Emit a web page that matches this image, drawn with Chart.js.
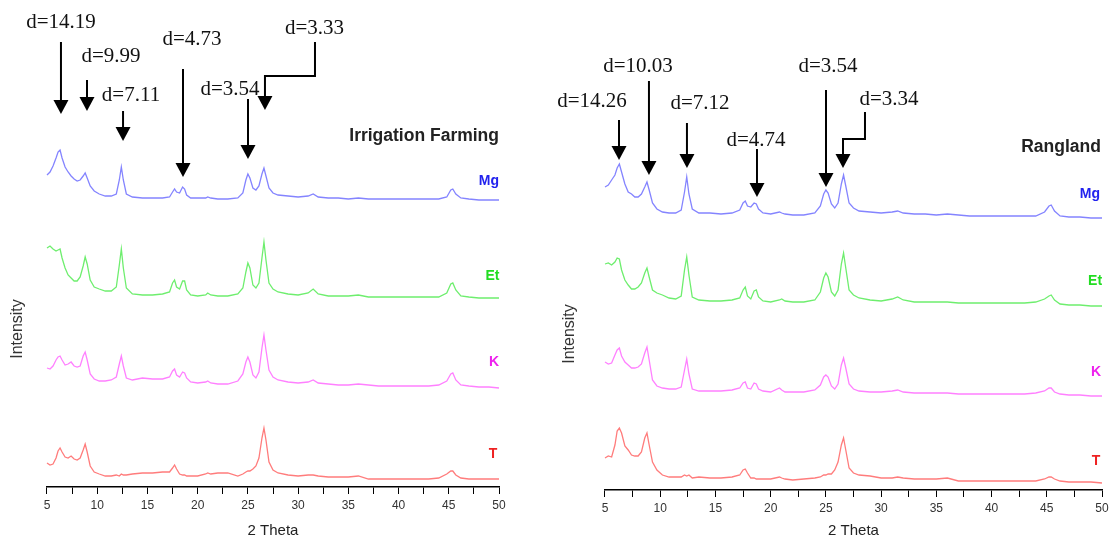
<!DOCTYPE html>
<html><head><meta charset="utf-8">
<script src="https://cdn.jsdelivr.net/npm/chart.js@4.4.1/dist/chart.umd.min.js"></script>
<style>
html,body{margin:0;padding:0;background:#fff;}
#wrap{position:relative;width:1115px;height:540px;overflow:hidden;background:#fff;}
.panel{position:absolute;top:0;height:540px;}
#p1{left:0;width:550px;} #p2{left:555px;width:560px;}
</style></head><body>
<div id="wrap"><div class="panel" id="p1"><canvas id="c1"></canvas></div><div class="panel" id="p2"><canvas id="c2"></canvas></div></div>
<script>
// ---- data (2 Theta grid, stacked intensities in a.u.) ----
const twoTheta = [5.0,5.3,5.6,5.9,6.1,6.3,6.5,6.8,7.1,7.4,7.7,8.0,8.3,8.6,8.8,9.0,9.3,9.7,10.2,10.8,11.4,11.9,12.2,12.4,12.6,12.9,13.5,14.5,15.5,16.5,17.2,17.5,17.7,17.9,18.2,18.5,18.7,18.9,19.3,20.0,20.8,21.0,21.3,22.0,23.0,24.0,24.5,24.8,25.0,25.2,25.5,25.8,26.1,26.4,26.6,26.8,27.1,27.5,28.0,29.0,30.0,31.0,31.5,32.0,33.0,34.0,35.0,36.0,37.0,38.0,39.0,40.0,41.0,42.0,43.0,44.0,44.8,45.2,45.4,45.7,46.2,47.0,48.0,49.0,50.0];
const tickLabels = [5,10,15,20,25,30,35,40,45,50];
const seriesNames = ['Mg','Et','K','T'];

const irrigMg = [312,315,321,329,335,337,329,320,315,311,308,306,307,311,314,309,301,296,293,291,291,293,307,320,307,293,290,289,289,289,290,295,298,295,294,300,298,292,289,289,289,290,289,288,288,289,294,307,313,309,299,297,301,313,319,311,299,294,292,291,290,291,293,290,289,289,288,289,288,288,288,288,288,288,288,288,290,297,298,293,289,288,287,287,287];
const irrigEt = [239,241,238,236,237,238,229,219,212,209,206,206,210,221,230,223,207,200,198,196,196,200,222,238,219,199,193,192,192,193,195,204,207,200,198,206,206,197,192,191,192,194,192,191,191,193,199,215,224,219,202,199,204,229,245,227,204,198,195,193,192,194,198,193,191,191,191,192,190,190,190,190,190,190,190,190,194,203,204,197,191,190,189,189,189];
const irrigK = [119,118,121,127,130,131,127,122,123,125,121,120,121,131,135,127,113,108,106,106,107,110,123,131,121,109,107,109,108,108,110,116,118,112,110,115,114,109,105,104,105,106,104,103,103,106,113,125,130,125,112,109,115,139,152,137,117,110,107,105,104,105,107,104,103,102,102,103,102,101,101,101,101,101,101,102,106,113,114,107,102,101,100,100,99];
const irrigT = [24,22,23,29,36,39,35,30,29,31,28,27,29,37,43,35,21,15,13,11,11,12,11,13,12,12,13,14,14,15,15,19,22,18,13,12,12,11,11,11,13,14,13,14,14,11,13,15,16,16,18,21,29,49,59,47,25,17,14,12,11,12,12,11,10,10,10,11,8,8,8,8,8,8,8,9,13,16,16,12,9,8,8,8,8];

const rangMg = [303,305,310,315,322,326,318,306,298,296,293,293,296,303,308,300,287,281,278,277,277,280,298,313,296,281,277,277,276,277,280,287,289,284,283,287,286,281,277,276,278,277,276,275,275,277,284,296,300,297,286,282,287,306,315,304,287,282,279,278,277,278,279,277,276,276,275,276,275,274,274,274,274,274,274,274,278,284,285,279,274,273,273,272,272];
const rangEt = [226,227,225,228,232,231,220,210,205,201,201,203,207,217,222,213,200,197,195,192,191,194,220,233,215,193,190,189,189,190,192,200,203,194,191,199,200,193,189,188,190,191,189,188,188,190,198,212,217,213,198,194,200,226,237,222,200,195,192,190,189,191,193,190,188,188,188,188,187,187,187,187,187,187,187,188,191,194,195,190,186,185,185,184,184];
const rangK = [128,126,127,135,140,142,134,128,125,122,122,123,126,137,143,130,110,104,102,101,101,103,120,131,116,101,99,99,99,100,102,107,108,102,101,107,106,101,99,98,102,100,98,98,98,100,105,113,115,113,104,101,106,125,132,122,106,101,99,98,98,99,100,98,97,97,97,97,96,96,96,96,96,96,96,97,99,102,102,98,96,95,95,94,94];
const rangT = [32,34,33,45,59,62,57,44,40,35,34,34,38,52,57,45,28,20,15,13,13,13,15,14,15,12,13,12,12,13,15,20,21,17,12,12,11,11,11,11,13,12,11,10,11,12,13,15,15,16,16,20,28,45,52,40,22,17,15,14,12,12,13,12,11,11,11,12,9,9,9,9,9,9,9,9,11,13,13,11,9,8,8,8,7];

const irrigDNotes = ['d=14.19','d=9.99','d=7.11','d=4.73','d=3.54','d=3.33'];
const rangDNotes  = ['d=14.26','d=10.03','d=7.12','d=4.74','d=3.54','d=3.34'];
const panelTitles = ['Irrigation Farming','Rangland'];

// ---- styles ----
const FAMILY = '"Liberation Sans", Arial, sans-serif';
Chart.defaults.font.family = FAMILY;
const lineColors  = {Mg:'#8484ff', Et:'#6eee6e', K:'#ff80ff', T:'#ff7c7c'};
const labelColors = {Mg:'#2222ee', Et:'#22dd22', K:'#ee22ee', T:'#ee2222'};

const notesPlugin = {
  id: 'xrdNotes',
  afterDatasetsDraw(chart, args, o) {
    const ctx = chart.ctx, xs = chart.scales.x, ys = chart.scales.y;
    const X = v => xs.getPixelForValue(v), Y = v => ys.getPixelForValue(v);
    ctx.save();
    // series labels
    ctx.font = 'bold 14px ' + FAMILY;
    ctx.textAlign = 'center'; ctx.textBaseline = 'middle';
    o.seriesLabels.forEach(l => { ctx.fillStyle = labelColors[l.name]; ctx.fillText(l.name, X(l.at[0]), Y(l.at[1])); });
    // panel title
    ctx.font = 'bold 17.5px ' + FAMILY; ctx.fillStyle = '#222'; ctx.textAlign = 'right';
    ctx.fillText(o.title.text, X(o.title.at[0]), Y(o.title.at[1]));
    // arrows + d-spacing labels
    ctx.strokeStyle = '#000'; ctx.fillStyle = '#000'; ctx.lineWidth = 2;
    const headH = 14, headW = 15;
    o.arrows.forEach(a => {
      const pts = a.path.map(p => [X(p[0]), Y(p[1])]);
      const tip = pts[pts.length - 1];
      ctx.beginPath();
      ctx.moveTo(pts[0][0], pts[0][1]);
      for (let i = 1; i < pts.length - 1; i++) ctx.lineTo(pts[i][0], pts[i][1]);
      ctx.lineTo(tip[0], tip[1] - headH + 1);
      ctx.stroke();
      ctx.beginPath();
      ctx.moveTo(tip[0] - headW / 2, tip[1] - headH);
      ctx.lineTo(tip[0] + headW / 2, tip[1] - headH);
      ctx.lineTo(tip[0], tip[1]);
      ctx.closePath(); ctx.fill();
      ctx.font = '21px "Liberation Serif", "Times New Roman", serif';
      ctx.textAlign = 'center'; ctx.fillStyle = '#111';
      ctx.fillText(a.text, X(a.at[0]), Y(a.at[1]));
      ctx.fillStyle = '#000';
    });
    ctx.restore();
  }
};

function makeDatasets(arrs) {
  return arrs.map((arr, k) => ({
    label: seriesNames[k],
    data: twoTheta.map((t, i) => ({x: t, y: arr[i]})),
    borderColor: lineColors[seriesNames[k]],
    borderWidth: 1.3, pointRadius: 0, tension: 0, fill: false, clip: false
  }));
}

function makeChart(id, arrs, cfg) {
  return new Chart(document.getElementById(id), {
    type: 'line',
    data: { datasets: makeDatasets(arrs) },
    options: {
      responsive: true, maintainAspectRatio: false, animation: false, devicePixelRatio: 1,
      layout: { padding: cfg.padding },
      plugins: { legend: {display: false}, tooltip: {enabled: false}, xrdNotes: cfg.notes },
      scales: {
        x: {
          type: 'linear', min: 5, max: 50,
          ticks: { stepSize: 2.5, autoSkip: false, maxRotation: 0, minRotation: 0, padding: 4, color: '#333',
                   font: {size: 12}, callback: v => tickLabels.includes(v) ? String(v) : '' },
          grid: { display: true, drawOnChartArea: false, drawTicks: true, tickLength: 7, color: '#000', tickColor: '#000', lineWidth: 1 },
          border: { display: true, color: '#000', width: 1.5 },
          title: { display: true, text: '2 Theta', color: '#222', font: {size: 15}, padding: {top: cfg.xTitleTop, bottom: 0} }
        },
        y: {
          min: 0, max: cfg.yMax,
          ticks: { display: false },
          grid: { display: false, drawTicks: false },
          border: { display: false },
          title: { display: true, text: 'Intensity', color: '#333', font: {size: 16}, padding: {top: 4, bottom: cfg.yTitleBottom} }
        }
      }
    },
    plugins: [notesPlugin]
  });
}

makeChart('c1', [irrigMg, irrigEt, irrigK, irrigT], {
  padding: {left: 4.4, right: 51, top: 171, bottom: 0}, yMax: 316, xTitleTop: 5.6, yTitleBottom: 19.4,
  notes: {
    title: {text: panelTitles[0], at: [50, 351]},
    seriesLabels: [{name:'Mg', at:[49.0,306]}, {name:'Et', at:[49.35,211]}, {name:'K', at:[49.5,125]}, {name:'T', at:[49.4,33]}],
    arrows: [
      {text: irrigDNotes[0], at:[6.39,465],  path:[[6.39,445],[6.39,373]]},
      {text: irrigDNotes[1], at:[11.37,431], path:[[8.98,407],[8.98,376]]},
      {text: irrigDNotes[2], at:[13.36,392], path:[[12.57,376],[12.57,346]]},
      {text: irrigDNotes[3], at:[19.44,448], path:[[18.54,418],[18.54,310]]},
      {text: irrigDNotes[4], at:[23.22,398], path:[[25.01,388],[25.01,328]]},
      {text: irrigDNotes[5], at:[31.63,459], path:[[31.68,445],[31.68,411],[26.70,411],[26.70,377]]}
    ]
  }
});

makeChart('c2', [rangMg, rangEt, rangK, rangT], {
  padding: {left: 1.4, right: 13, top: 178, bottom: 0}, yMax: 312, xTitleTop: 2.6, yTitleBottom: 25.4,
  notes: {
    title: {text: panelTitles[1], at: [49.9, 343]},
    seriesLabels: [{name:'Mg', at:[48.9,296]}, {name:'Et', at:[49.37,209]}, {name:'K', at:[49.46,118]}, {name:'T', at:[49.46,29]}],
    arrows: [
      {text: rangDNotes[0], at:[3.82,389],  path:[[6.27,370],[6.27,330]]},
      {text: rangDNotes[1], at:[7.99,424],  path:[[8.98,409],[8.98,315]]},
      {text: rangDNotes[2], at:[13.60,387], path:[[12.42,367],[12.42,322]]},
      {text: rangDNotes[3], at:[18.67,350], path:[[18.76,341],[18.76,293]]},
      {text: rangDNotes[4], at:[25.19,424], path:[[25.01,400],[25.01,303]]},
      {text: rangDNotes[5], at:[30.72,391], path:[[28.54,378],[28.54,351],[26.55,351],[26.55,322]]}
    ]
  }
});
</script>
</body></html>
